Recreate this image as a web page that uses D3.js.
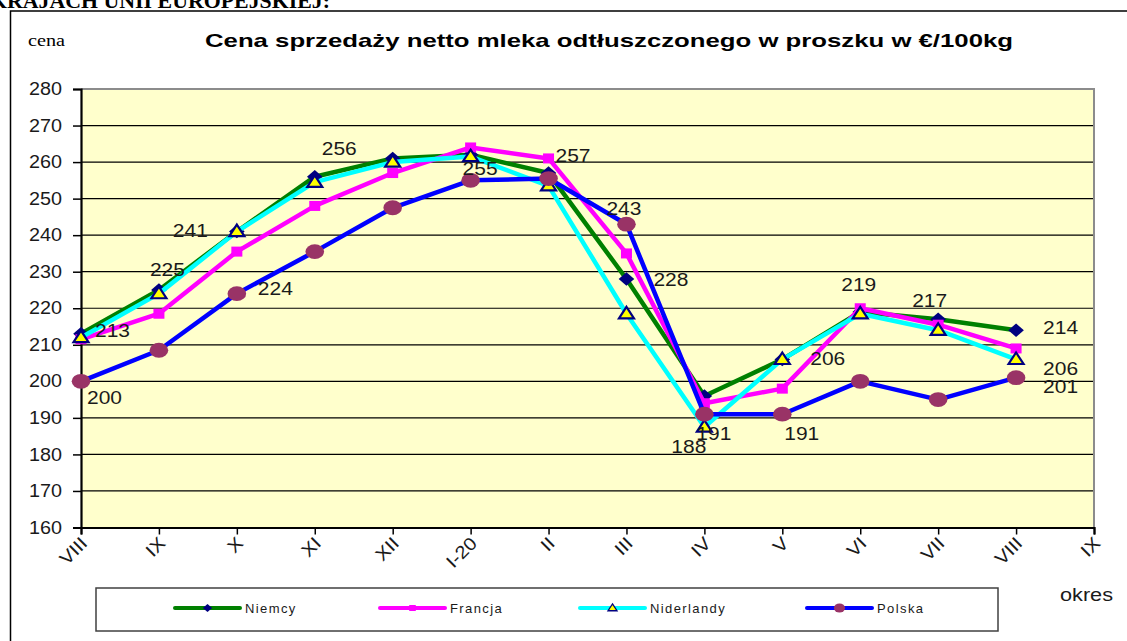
<!DOCTYPE html>
<html><head><meta charset="utf-8">
<script src="https://cdn.jsdelivr.net/npm/d3@7"></script>
<style>
html,body{margin:0;padding:0;background:#fff;}
svg{display:block;}
</style></head>
<body>
<svg id="c" width="1127" height="641"></svg>
<script>
// ---------- data ----------
const categories = ["VIII","IX","X","XI","XII","I-20","II","III","IV","V","VI","VII","VIII ","IX "];
const niemcy     = [213, 225, 241, 256, 261, 262, 257, 228, 196, 206, 219, 217, 214];
const francja    = [211.5, 218.5, 235.5, 248, 257, 264, 261, 235, 194, 198, 220, 215.5, 209];
const niderlandy = [212, 224, 241, 254.5, 260, 261.5, 253.5, 218.5, 187.5, 206, 218.5, 214, 206];
const polska     = [200, 208.5, 224, 235.5, 247.5, 255, 255.5, 243, 191, 191, 200, 195, 201];
const seriesNames = ["Niemcy","Francja","Niderlandy","Polska"];
const yTicks = [160,170,180,190,200,210,220,230,240,250,260,270,280];
const titleText = "Cena sprzedaży netto mleka odtłuszczonego w proszku w €/100kg";
const headerText = "KRAJACH UNII EUROPEJSKIEJ:";
// data labels: series index, point index
const labelSeries = [0,0,0,0,3,0,3,0,3,3,2,3,3,0,0,0,0,2,3];
const labelPoint  = [0,1,2,3,5,6,7,7,2,0,8,8,9,9,10,11,12,12,12];
// label offsets (style): dx, dy relative to the point
const labelDx = [14,-9,-64,7,-8,7,-20,27,21,6,-33,-8,2,28,-19,-26,27,27,27];
const labelDy = [3,-13.5,5.5,-22,-5.5,-11.5,-9,6.5,1,23,26,26,26,5.5,-20.5,-12,4,16,15];

const allSeries = [niemcy, francja, niderlandy, polska];
const lineColors = ["#008000","#FF00FF","#00FFFF","#0000FF"];

const svg = d3.select("#c");
const font = "'Liberation Sans', Arial, sans-serif";
const serif = "'Liberation Serif','Times New Roman',serif";

function stretch(sel, k){
  sel.each(function(){
    const L = this.getComputedTextLength();
    d3.select(this).attr("textLength", L*k).attr("lengthAdjust","spacingAndGlyphs");
  });
}

// header text (cropped at top)
svg.append("text").attr("x",-10).attr("y",7.5)
  .attr("font-family",serif).attr("font-weight","bold").attr("font-size",21).attr("fill","#000")
  .attr("textLength",340).attr("lengthAdjust","spacingAndGlyphs")
  .text(headerText);

// outer chart frame
svg.append("rect").attr("x",10.5).attr("y",11).attr("width",1130).attr("height",640)
  .attr("fill","#fff").attr("stroke","#000").attr("stroke-width",1.5);

const x = d3.scalePoint().domain(categories).range([81, 1094]).padding(0);
const y = d3.scaleLinear().domain([160,280]).range([527.5, 89]);

// plot background
svg.append("rect").attr("x",81).attr("y",y(280)).attr("width",1094-81).attr("height",y(160)-y(280))
  .attr("fill","#FFFFCC");

// gridlines
svg.append("g").selectAll("line").data(yTicks.filter(d=>d>160 && d<280)).join("line")
  .attr("x1",81).attr("x2",1094).attr("y1",d=>y(d)).attr("y2",d=>y(d))
  .attr("stroke","#000").attr("stroke-width",1.2);

// top & right border gray
svg.append("path").attr("d",`M81,${y(280)}H1094V${y(160)}`).attr("fill","none")
  .attr("stroke","#8c8c8c").attr("stroke-width",2);

// y axis
const yAxis = svg.append("g").attr("transform","translate(81,0)")
  .call(d3.axisLeft(y).tickValues(yTicks).tickSize(8).tickPadding(11));
yAxis.select(".domain").attr("stroke","#000").attr("stroke-width",2.2);
yAxis.selectAll(".tick line").attr("stroke","#000").attr("stroke-width",1.5);
yAxis.selectAll("text").attr("font-family",font).attr("font-size",17.5).attr("fill","#1a1a1a");
stretch(yAxis.selectAll("text"), 1.13);

// x axis
const xAxis = svg.append("g").attr("transform",`translate(0,${y(160)})`)
  .call(d3.axisBottom(x).tickSize(7).tickFormat(d=>d.trim()));
xAxis.select(".domain").attr("stroke","#000").attr("stroke-width",2.2);
xAxis.selectAll(".tick line").attr("stroke","#000").attr("stroke-width",1.5);
xAxis.selectAll("text").attr("font-family",font).attr("font-size",18).attr("fill","#1a1a1a")
  .attr("text-anchor","end").attr("dy",null).attr("y",null)
  .attr("transform","translate(7,17) rotate(-45)");
stretch(xAxis.selectAll("text"), 1.12);

// lines
const line = d3.line().x((d,i)=>x(categories[i])).y(d=>y(d));
const gLines = svg.append("g");

function drawMarker(g, s, cx, cy, scale){
  const k = scale||1;
  if(s===0){
    const hw=7.8*k, hh=6.8*k;
    g.append("path").attr("d",`M${cx},${cy-hh}L${cx+hw},${cy}L${cx},${cy+hh}L${cx-hw},${cy}Z`)
      .attr("fill","#000080");
  } else if(s===1){
    g.append("rect").attr("x",cx-5.5*k).attr("y",cy-5*k).attr("width",11*k).attr("height",10*k)
      .attr("fill","#FF00FF");
  } else if(s===2){
    const h=11.5*k, w=15*k;
    g.append("path").attr("d",`M${cx},${cy-h*0.6}L${cx+w/2},${cy+h*0.4}L${cx-w/2},${cy+h*0.4}Z`)
      .attr("fill","#FFFF00").attr("stroke","#000080").attr("stroke-width",2.2*k).attr("stroke-linejoin","miter");
  } else {
    g.append("ellipse").attr("cx",cx).attr("cy",cy).attr("rx",9.3*k).attr("ry",7.4*k).attr("fill","#993366");
  }
}

allSeries.forEach((vals,s)=>{
  const g = gLines.append("g");
  g.append("path").datum(vals).attr("d",line).attr("fill","none")
    .attr("stroke",lineColors[s]).attr("stroke-width",4.5).attr("stroke-linejoin","round");
  vals.forEach((v,i)=>drawMarker(g, s, x(categories[i]), y(v)));
});

// data labels
const gLab = svg.append("g");
labelSeries.forEach((s,j)=>{
  const i = labelPoint[j];
  const v = allSeries[s][i];
  gLab.append("text").attr("x", x(categories[i]) + labelDx[j]).attr("y", y(v) + labelDy[j])
    .attr("font-family",font).attr("font-size",18).attr("fill","#1a1a1a")
    .attr("textLength",35).attr("lengthAdjust","spacingAndGlyphs")
    .text(Math.round(v));
});

// title
svg.append("text").attr("x",205).attr("y",47)
  .attr("font-family",font).attr("font-weight","bold").attr("font-size",18.5).attr("fill","#000")
  .attr("textLength",808).attr("lengthAdjust","spacingAndGlyphs")
  .text(titleText);
svg.append("text").attr("x",28).attr("y",46)
  .attr("font-family",serif).attr("font-size",16).attr("fill","#000")
  .attr("textLength",37).attr("lengthAdjust","spacingAndGlyphs")
  .text("cena");
svg.append("text").attr("x",1060).attr("y",601)
  .attr("font-family",font).attr("font-size",18).attr("fill","#1a1a1a")
  .attr("textLength",53).attr("lengthAdjust","spacingAndGlyphs")
  .text("okres");

// legend
const leg = svg.append("g");
leg.append("rect").attr("x",96).attr("y",588).attr("width",902).attr("height",43)
  .attr("fill","#fff").attr("stroke","#404040").attr("stroke-width",1.5);
const legX = [175, 380, 580, 807];
seriesNames.forEach((name,s)=>{
  const lx = legX[s], ly = 608;
  leg.append("line").attr("x1",lx).attr("x2",lx+65).attr("y1",ly).attr("y2",ly)
    .attr("stroke",lineColors[s]).attr("stroke-width",4).attr("stroke-linecap","round");
  drawMarker(leg, s, lx+32.5, ly, 0.6);
  const t = leg.append("text").attr("x",lx+70).attr("y",ly+5)
    .attr("font-family",font).attr("font-size",13).attr("letter-spacing",1.4).attr("fill","#1a1a1a")
    .text(name);
});
</script>
</body></html>
